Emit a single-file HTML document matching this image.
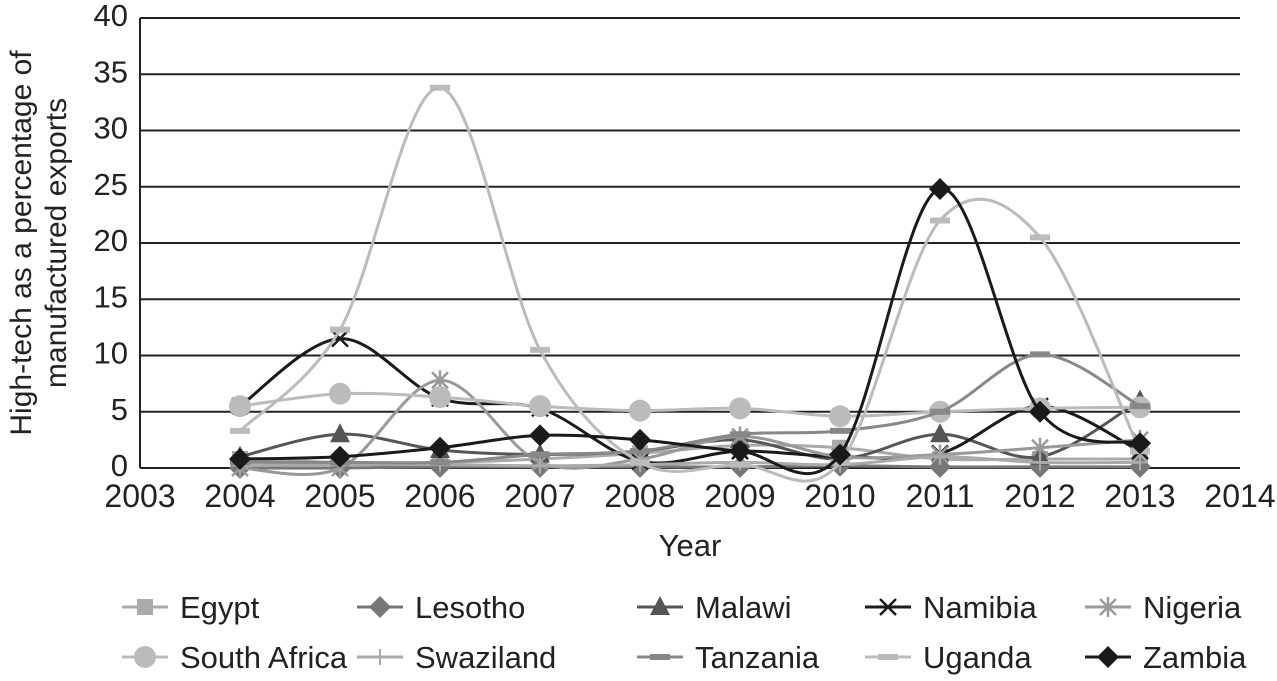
<!DOCTYPE html>
<html><head><meta charset="utf-8"><style>
body{margin:0;background:#fff;font-family:"Liberation Sans",sans-serif}
svg text{font-family:"Liberation Sans",sans-serif}
</style></head><body>
<svg id="c" width="1277" height="676"></svg>
<script>
const years=[2004,2005,2006,2007,2008,2009,2010,2011,2012,2013];
const xTicks=[2003,2004,2005,2006,2007,2008,2009,2010,2011,2012,2013,2014];
const yTicks=[0,5,10,15,20,25,30,35,40];
const egypt=[0.8,0.5,0.5,0.8,1.3,2.0,1.8,0.8,0.8,0.8];
const lesotho=[0,0,0.1,0.1,0.1,0.1,0.2,0.1,0.1,0.1];
const malawi=[1.0,3.0,1.6,1.2,1.5,2.5,0.8,3.0,1.0,6.0];
const namibia=[5.5,11.5,6.2,5.3,0.6,1.5,1.0,1.3,5.5,1.5];
const nigeria=[0,0,7.8,0.5,0.8,2.8,1.0,1.2,1.8,2.5];
const southAfrica=[5.5,6.6,6.3,5.5,5.1,5.3,4.6,5.0,5.3,5.4];
const swaziland=[0.2,0.3,0.3,0.2,0.3,0.5,0.3,1.0,0.5,0.5];
const tanzania=[0.5,0.5,0.5,1.2,1.5,3.0,3.3,5.0,10.1,5.5];
const uganda=[3.3,12.3,33.8,10.5,0.5,0.3,0.5,22,20.5,1.5];
const zambia=[0.8,1.0,1.8,2.9,2.5,1.5,1.2,24.8,5.0,2.2];
const series=[
 {n:"Egypt",d:egypt,c:"#aaa",m:"square"},
 {n:"Lesotho",d:lesotho,c:"#777",m:"diamond"},
 {n:"Malawi",d:malawi,c:"#555",m:"triangle"},
 {n:"Namibia",d:namibia,c:"#1a1a1a",m:"x"},
 {n:"Nigeria",d:nigeria,c:"#999",m:"star"},
 {n:"South Africa",d:southAfrica,c:"#bbb",m:"circle"},
 {n:"Swaziland",d:swaziland,c:"#aaa",m:"plus"},
 {n:"Tanzania",d:tanzania,c:"#888",m:"dash"},
 {n:"Uganda",d:uganda,c:"#bbb",m:"dash"},
 {n:"Zambia",d:zambia,c:"#1a1a1a",m:"diamond"}];
const X=v=>140+(v-2003)*100, Y=v=>468-v*11.25;
const svg=document.getElementById('c'),NS="http://www.w3.org/2000/svg";
function mk(t,a,p){const e=document.createElementNS(NS,t);for(const k in a)e.setAttribute(k,a[k]);(p||svg).appendChild(e);return e;}
yTicks.forEach(v=>{
 if(v>0){const l=mk('line',{x1:140,x2:1240,y1:Y(v),y2:Y(v),stroke:'#222','stroke-width':2});
 
 }
 const t=mk('text',{x:128,y:Y(v)+8,'text-anchor':'end','font-size':31,fill:'#222'});t.textContent=v;
 
 
});
const ax=mk('line',{x1:140,x2:140,y1:18,y2:468,stroke:'#222','stroke-width':2});


const bx=mk('line',{x1:140,x2:1240,y1:468,y2:468,stroke:'#222','stroke-width':2});


xTicks.forEach(v=>{const t=mk('text',{x:X(v),y:507,'text-anchor':'middle','font-size':32,fill:'#222'});t.textContent=v;
 
 });
let t=mk('text',{x:690,y:556,'text-anchor':'middle','font-size':31,fill:'#222'});t.textContent="Year";


const g=mk('g',{transform:'translate(0,243) rotate(-90)'});


t=mk('text',{x:0,y:31,'text-anchor':'middle','font-size':30,fill:'#222'},g);t.textContent="High-tech as a percentage of";
t=mk('text',{x:0,y:66,'text-anchor':'middle','font-size':30,fill:'#222'},g);t.textContent="manufactured exports";
function path(d){const p=d.map((v,i)=>[X(years[i]),Y(v)]);let s=`M${p[0][0]},${p[0][1]}`;
 for(let i=0;i<p.length-1;i++){const a=p[i-1]||p[i],b=p[i],c=p[i+1],e=p[i+2]||c;
 s+=` C${b[0]+(c[0]-a[0])/6},${b[1]+(c[1]-a[1])/6} ${c[0]-(e[0]-b[0])/6},${c[1]-(e[1]-b[1])/6} ${c[0]},${c[1]}`;}return s;}
function marker(m,x,y,c,p){
 if(m=="square")return mk('rect',{x:x-8,y:y-8,width:16,height:16,fill:c},p);
 if(m=="diamond")return mk('polygon',{points:`${x},${y-11} ${x+11},${y} ${x},${y+11} ${x-11},${y}`,fill:c},p);
 if(m=="triangle")return mk('polygon',{points:`${x},${y-11} ${x+10},${y+8} ${x-10},${y+8}`,fill:c},p);
 if(m=="circle")return mk('circle',{cx:x,cy:y,r:11,fill:c},p);
 if(m=="x")return mk('path',{d:`M${x-8},${y-8}L${x+8},${y+8}M${x+8},${y-8}L${x-8},${y+8}`,stroke:c,'stroke-width':2.5},p);
 if(m=="plus")return mk('path',{d:`M${x-8},${y}H${x+8}M${x},${y-8}V${y+8}`,stroke:c,'stroke-width':2},p);
 if(m=="star")return mk('path',{d:`M${x-8},${y-8}L${x+8},${y+8}M${x+8},${y-8}L${x-8},${y+8}M${x},${y-10}V${y+10}`,stroke:c,'stroke-width':2.5},p);
 return mk('rect',{x:x-10,y:y-3,width:20,height:6,fill:c},p);}
series.forEach(s=>{const gg=mk('g',{});
 
 
 mk('path',{d:path(s.d),fill:'none',stroke:s.c,'stroke-width':3},gg);
 s.d.forEach((v,i)=>marker(s.m,X(years[i]),Y(v),s.c,gg));});
const lx=[122,357,637,865,1085];
series.forEach((s,i)=>{const x=lx[i%5],y=i<5?607:657;const gg=mk('g',{});
 
 
 mk('line',{x1:x,x2:x+46,y1:y,y2:y,stroke:s.c,'stroke-width':3},gg);
 marker(s.m,x+23,y,s.c,gg);
 const tt=mk('text',{x:x+58,y:y+11,'font-size':31,fill:'#222'},gg);tt.textContent=s.n;});
</script>
</body></html>
